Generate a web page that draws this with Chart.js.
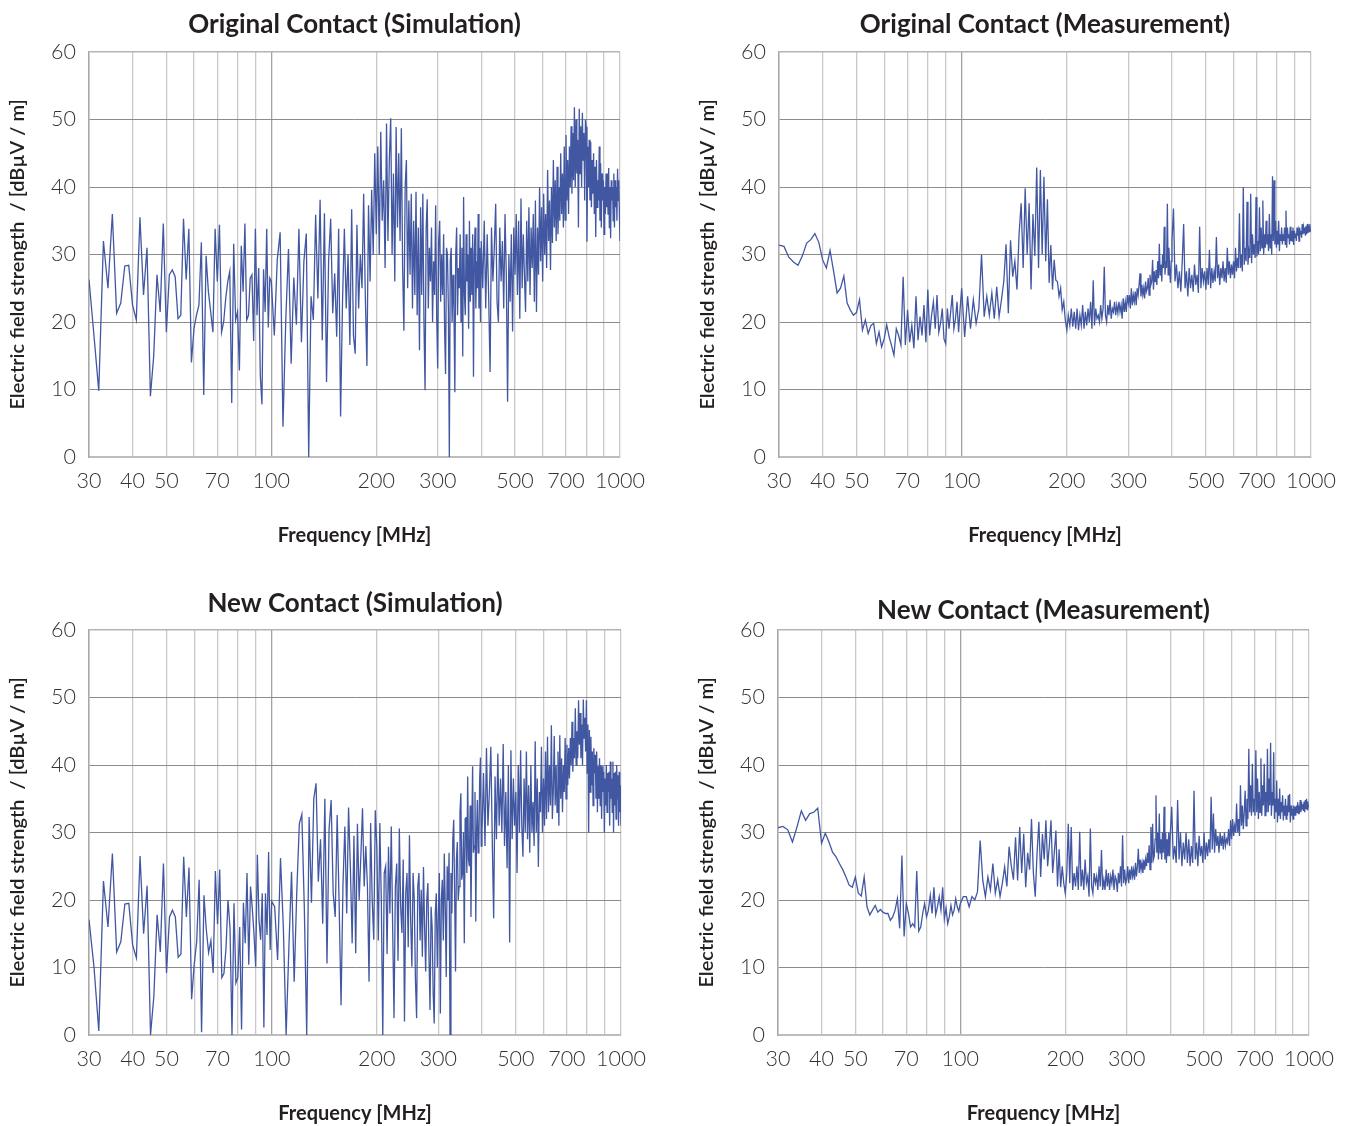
<!DOCTYPE html>
<html>
<head>
<meta charset="utf-8">
<script src="https://cdn.jsdelivr.net/npm/chart.js@4.4.0/dist/chart.umd.min.js"></script>
<style>
html, body { margin: 0; padding: 0; background: #fff; overflow: hidden; width: 1354px; height: 1126px; }
canvas { position: absolute; }
</style>
</head>
<body>
<canvas id="c1"></canvas>
<canvas id="c2"></canvas>
<canvas id="c3"></canvas>
<canvas id="c4"></canvas>
<script>
// frequency points in MHz, same for the four panels (10 per row)
var freq = [
    30, 31, 32, 33, 34, 35, 36, 37, 38, 39,
    40, 41, 42, 43, 44, 45, 46, 47, 48, 49,
    50, 51, 52, 53, 54, 55, 56, 57, 58, 59,
    60, 61, 62, 63, 64, 65, 66, 67, 68, 69,
    70, 71, 72, 73, 74, 75, 76, 77, 78, 79,
    80, 81, 82, 83, 84, 85, 86, 87, 88, 89,
    90, 91, 92, 93, 94, 95, 96, 97, 98, 99,
    100, 102, 104, 106, 108, 110, 112, 114, 116, 118,
    120, 122, 124, 126, 128, 130, 132, 134, 136, 138,
    140, 142, 144, 146, 148, 150, 152, 154, 156, 158,
    160, 162, 164, 166, 168, 170, 172, 174, 176, 178,
    180, 182, 184, 186, 188, 190, 192, 194, 196, 198,
    200, 202, 204, 206, 208, 210, 212, 214, 216, 218,
    220, 222, 224, 226, 228, 230, 232, 234, 236, 238,
    240, 242, 244, 246, 248, 250, 252, 254, 256, 258,
    260, 262, 264, 266, 268, 270, 272, 274, 276, 278,
    280, 282, 284, 286, 288, 290, 292, 294, 296, 298,
    300, 302, 304, 306, 308, 310, 312, 314, 316, 318,
    320, 322, 324, 326, 328, 330, 332, 334, 336, 338,
    340, 342, 344, 346, 348, 350, 352, 354, 356, 358,
    360, 362, 364, 366, 368, 370, 372, 374, 376, 378,
    380, 382, 384, 386, 388, 390, 392, 394, 396, 398,
    400, 404, 408, 412, 416, 420, 424, 428, 432, 436,
    440, 444, 448, 452, 456, 460, 464, 468, 472, 476,
    480, 484, 488, 492, 496, 500, 504, 508, 512, 516,
    520, 524, 528, 532, 536, 540, 544, 548, 552, 556,
    560, 564, 568, 572, 576, 580, 584, 588, 592, 596,
    600, 604, 608, 612, 616, 620, 624, 628, 632, 636,
    640, 644, 648, 652, 656, 660, 664, 668, 672, 676,
    680, 684, 688, 692, 696, 700, 704, 708, 712, 716,
    720, 724, 728, 732, 736, 740, 744, 748, 752, 756,
    760, 764, 768, 772, 776, 780, 784, 788, 792, 796,
    800, 804, 808, 812, 816, 820, 824, 828, 832, 836,
    840, 844, 848, 852, 856, 860, 864, 868, 872, 876,
    880, 884, 888, 892, 896, 900, 904, 908, 912, 916,
    920, 924, 928, 932, 936, 940, 944, 948, 952, 956,
    960, 964, 968, 972, 976, 980, 984, 988, 992, 996,
    1000
];

// Original Contact (Simulation), dBuV/m
var origSim = [
    26.3, 18, 9.8, 32, 25, 36, 21.3, 22.8, 28.3, 28.4,
    22.5, 20.3, 35.5, 24, 31, 9, 15, 27, 21.5, 34.6,
    18.5, 27, 27.7, 26.7, 20.5, 21, 35.3, 26.3, 33.8, 14,
    19, 21, 22.5, 31.8, 9.2, 29.8, 24.5, 21.5, 18.5, 33.8,
    26, 34.4, 18.5, 20, 23.5, 26, 27.5, 8, 31.6, 20.3,
    21.5, 12.8, 31.3, 24.5, 34.6, 20.3, 21, 26.5, 27, 17.2,
    33.8, 21, 28, 12, 7.8, 27.8, 21.5, 33.8, 19.2, 26.5,
    26, 18, 29.2, 33.3, 4.5, 20.2, 30.8, 13.8, 26.6, 19.6,
    33.8, 17, 29, 33.1, 0, 23.8, 20.3, 35.9, 23.5, 38.1,
    17.3, 36.1, 11.1, 29.2, 35.3, 21.3, 27.2, 17.8, 33.8, 6,
    22.8, 33.8, 22, 30, 16.6, 36.7, 18, 15.3, 34.4, 22,
    30, 25, 39, 24, 13.5, 37.3, 26, 39.6, 30, 45,
    33, 46, 30, 48.2, 35, 41, 28, 49.4, 32, 44,
    50.2, 30, 42, 26, 48.9, 34, 45, 32, 48.7, 28,
    18.7, 40, 44, 25, 38, 27, 39, 22, 35, 24,
    39.3, 21, 34, 15.8, 37, 24, 39, 20, 9.9, 33.8,
    38.2, 22, 31, 26, 34, 20, 29, 24, 37.3, 21,
    13.1, 32, 35, 23, 30, 24, 33, 19, 12.3, 31,
    30, 22, 0, 29, 31, 20, 27, 22, 9.6, 30,
    34, 21, 28, 25, 33, 20, 31, 14.9, 38.5, 24,
    21, 33, 26, 30, 19, 35, 23, 31, 24, 33,
    11.9, 30, 34, 22, 29, 25, 36, 22, 31, 20,
    32, 25, 35, 22, 33, 24, 12.6, 34, 26, 31,
    37.5, 23, 20, 34, 26, 32, 22, 36, 27, 8.2,
    30, 23, 33, 18.6, 34, 27, 36, 24, 35, 20.5,
    38.3, 25, 33, 27, 21.5, 35, 26, 37, 24, 34,
    28, 36, 23, 38, 21.5, 34, 27, 40, 29, 37,
    26, 39, 30, 36, 28, 42.5, 32, 38, 27.7, 40,
    31.7, 44, 34, 41, 32, 43, 33, 40, 35, 45,
    36, 42, 34, 46, 35.1, 47.7, 38, 44, 36, 46,
    40, 49, 39, 48, 41, 51.8, 40, 50, 42, 47,
    34, 51.6, 42, 49, 40, 51, 44, 48, 38, 50,
    48.9, 31.9, 46, 40, 47, 38, 46.7, 37, 44, 39,
    45, 36, 43, 32.6, 44, 37, 41, 38, 46, 35,
    43.5, 34, 42, 38, 41, 33, 40, 36, 42, 37,
    42, 36, 42.8, 34, 40, 32.4, 41, 38, 40, 35,
    42, 34, 41, 37, 40, 35, 42.7, 38, 41, 36,
    32
];

// Original Contact (Measurement)
var origMeas = [
    31.4, 31.2, 29.6, 28.9, 28.4, 29.8, 31.7, 32.2, 33.1, 31.8,
    29.2, 28, 30.6, 27.5, 24.3, 25, 26.8, 22.8, 21.8, 21,
    21.4, 23.3, 18.8, 20.3, 18.3, 19.5, 19.8, 16.8, 18.5, 16.3,
    17.5, 19.6, 17.8, 16.5, 15.1, 19, 18, 16.6, 26.7, 16.6,
    21.8, 17, 19.5, 16.1, 23.8, 17.3, 20.8, 18, 22.5, 17,
    24.8, 18, 21, 23, 19, 24, 18.5, 19.8, 22, 17.5,
    16.8, 22, 19, 21.5, 24, 19, 20.5, 23, 18.5, 22,
    25, 17.8, 23.8, 19, 23.3, 19.8, 22, 30, 20.8, 23.8,
    21, 24.3, 20.5, 25.2, 20.8, 23.3, 26, 31.5, 21.3, 32.1,
    26.7, 29, 24.8, 33, 37.6, 28, 39.8, 30, 37.6, 24.8,
    36, 29.8, 42.9, 28, 42.5, 30, 41.5, 29, 38.2, 25.8,
    31.4, 24.8, 29.2, 26.2, 26, 23.8, 25, 21.8, 23, 20.3,
    18.8, 21, 19.5, 22, 19.3, 21.5, 19, 22, 18.8, 21,
    19.5, 22.5, 19, 21.5, 19.5, 22, 20, 23, 19, 26.2,
    19.5, 22, 20.5, 21, 20, 22.5, 20.5, 22, 28.2, 21,
    20, 22.5, 21, 23.3, 20.5, 22, 21.5, 23, 21, 22.5,
    21.3, 23, 21.5, 22.5, 20.5, 23.5, 21.5, 23, 21.5, 24,
    22.8, 24, 22, 25, 22.5, 24, 23, 24.5, 22.5, 25,
    24, 25.5, 27.2, 23.8, 25.5, 24, 25, 23.5, 26, 24.5,
    25, 26.5, 24, 27, 25.5, 26, 29.2, 24.8, 27.5, 26,
    27.7, 25.5, 29, 26.5, 31.6, 27, 28.5, 26, 30, 28,
    34.1, 27, 29, 28, 37.5, 27, 31, 27.5, 25.8, 29,
    32, 36.8, 26, 28.5, 25, 27.5, 24.5, 29, 34.5, 25,
    27.5, 23.8, 28, 25, 27, 24.5, 28.5, 25.5, 27, 24.3,
    34.1, 25, 28, 26, 27.5, 24.8, 28, 25.5, 30.7, 25,
    28, 25.8, 27.5, 26, 32.6, 26.5, 28.5, 25.5, 28, 26.5,
    29, 26, 28, 25.8, 31, 27, 29, 26.5, 28.5, 27,
    29, 26.5, 31, 27.5, 29.5, 28, 36.1, 28, 30, 27.5,
    40, 28.5, 31, 29, 37.8, 28.5, 30.5, 29.5, 39, 28.7,
    33, 30, 31.5, 29.5, 38.5, 29.7, 32, 30, 37, 30.5,
    34, 31, 38, 30, 33, 31, 35, 31.5, 33, 30.5,
    36, 31, 33, 30, 41.6, 32, 41, 31.5, 35, 31,
    33.5, 31.5, 35, 30.5, 33, 32, 34, 31.5, 33, 32,
    34, 31.5, 36.5, 31, 34, 32.5, 33, 31.5, 34.1, 32,
    33.5, 32, 34, 31.4, 33.5, 32.5, 33.1, 32, 34, 32.8,
    33.5, 32, 34, 33, 33.5, 32.5, 34.5, 33, 34, 33.2,
    34, 32.8, 34.2, 33, 34.5, 33.2, 34, 33.4, 34.5, 33.5,
    33.6
];

// New Contact (Simulation)
var newSim = [
    17.1, 10.1, 0.6, 22.8, 16, 26.9, 12.3, 13.8, 19.4, 19.5,
    13.3, 11.4, 26.5, 15, 22.1, 0, 5.7, 17.8, 12.3, 25.4,
    9.2, 17.5, 18.5, 17.5, 11.5, 12, 26.4, 17.5, 24.8, 5.3,
    10.4, 13.8, 23, 0.4, 20.7, 15.6, 12.2, 14, 9.2, 24.3,
    16.4, 24.5, 8.5, 9.1, 12.8, 20, 15.8, 0, 19.5, 7.7,
    8.5, 16, 0.8, 19.6, 13.6, 24, 10.4, 22, 18.8, 15,
    10.1, 26.7, 17, 14.1, 21, 1.1, 21, 14.8, 27.1, 12.6,
    19.8, 19, 11.1, 26.2, 16, 0, 12.8, 24.2, 7.9, 21.2,
    31.3, 32.7, 19, 0, 32.3, 19.6, 35, 37.3, 22.7, 29,
    16.5, 35, 10.6, 30.5, 34.8, 21, 17.5, 32.6, 19.5, 4.4,
    22.2, 30.9, 18, 33.7, 24.8, 13.6, 29.5, 12.1, 31.3, 20,
    26.4, 33.6, 22, 28, 22, 7.9, 31.4, 20, 14.1, 33.3,
    27.9, 14, 31.4, 20, 0, 24, 25, 12, 27.9, 18,
    30.9, 16, 2.5, 22, 25.4, 11, 30.6, 19, 15.1, 26,
    2, 21, 24, 13, 29.6, 17, 10.1, 24, 20, 8,
    2.5, 22, 24, 14, 21.5, 11.6, 24.9, 16, 9.4, 20,
    22.5, 12, 3.7, 19, 16, 6, 1.7, 18, 21, 10,
    17.8, 24, 3.2, 20, 23, 14, 26.9, 19, 8.6, 25,
    20, 27, 0, 24, 18, 29, 31.9, 21, 9.4, 26,
    28.6, 20, 22, 33, 35.8, 23, 24, 30, 13.6, 32,
    32.3, 24, 38.3, 26, 25, 34, 17.5, 30, 39.8, 27,
    28, 36, 16.8, 30, 34.8, 27, 29, 38, 41.1, 28,
    30, 38.8, 28, 42.5, 31, 36, 42.7, 29, 17.3, 38.3,
    29, 41.7, 31, 38, 30, 43.1, 28, 36, 24.7, 40,
    13.7, 42.2, 29, 38, 31, 36, 24, 40, 30, 42.2,
    31, 26.4, 38, 30, 42, 29, 37, 27, 40, 30,
    34.5, 28, 43.5, 30, 38, 24.9, 36, 33, 42.7, 30,
    38, 31, 42, 32, 44.2, 33, 40, 34, 45.9, 32,
    36, 44.3, 34, 40, 33, 42, 31, 44.4, 35, 41,
    33, 40, 36, 44, 35, 43, 37, 42.5, 38, 44,
    40, 46.4, 39, 44, 41, 48.4, 40, 45, 41, 49.6,
    43, 47.7, 41, 46, 40, 49.7, 44, 47, 42, 49.6,
    38.8, 46, 30, 45.2, 36, 44.2, 37, 42, 34, 42.5,
    38.8, 41.5, 35, 42, 33, 39.8, 35, 41, 34, 40,
    32, 39.8, 36, 39, 30, 38, 34, 40, 33, 38.8,
    36, 39, 31, 40.5, 35, 38, 33, 40.5, 30, 38.8,
    34, 39, 32, 40, 35, 38.5, 31, 39, 33, 37,
    31
];

// New Contact (Measurement)
var newMeas = [
    30.7, 30.9, 30.4, 28.6, 30.8, 33.2, 31.8, 32.8, 33, 33.6,
    28.4, 29.9, 28.6, 27.1, 26.4, 25.4, 24.5, 23.4, 22.2, 21.9,
    23.4, 21, 20.6, 23.4, 19, 17.8, 18.5, 19.2, 18.2, 18.6,
    18.2, 18, 18, 17, 17.5, 18.5, 20.2, 15.8, 26.6, 14.6,
    19.5, 18, 16, 16.5, 16, 24.3, 15.4, 16, 18, 19.5,
    17.5, 18.5, 20.7, 18, 21.9, 17.8, 19, 20.5, 18.5, 21.9,
    17.2, 18.8, 16.5, 17.5, 19.2, 17.8, 18.5, 20.2, 19, 18.3,
    19.5, 20.5, 20.5, 19, 20.5, 20, 21.2, 28.8, 22.9, 20.5,
    23.4, 21.5, 25.4, 21, 23, 20.5, 22.5, 24.9, 22, 27.9,
    25.1, 23, 29.3, 22.9, 30.8, 24, 29.8, 21.9, 27, 24.5,
    32, 24, 20.5, 27, 31.6, 23.4, 29.8, 26, 31.8, 25,
    28, 31.8, 24, 27, 30.3, 22, 27.5, 21.9, 25, 22.5,
    21, 24, 31.3, 22.5, 30.8, 21.5, 24, 22, 25, 21.5,
    30.1, 22, 24.5, 21.5, 26, 22.5, 23.5, 20.5, 30.6, 22,
    21, 24, 22.5, 23.5, 21.5, 25, 22, 27.4, 21.5, 23,
    21.5, 24.5, 22, 24, 21.5, 23.5, 22.5, 24.5, 21.5, 23.5,
    23, 21.2, 24, 22.5, 25, 22, 29.6, 22.5, 24.5, 22.5,
    23, 25, 22.5, 24.5, 23, 25, 23.5, 24.5, 23, 25.5,
    23.5, 25, 27.6, 24, 26, 24.5, 25.5, 24, 26, 24.5,
    26, 25, 27, 25.5, 28.1, 24.5, 30.8, 25.5, 31.3, 26,
    26.5, 29, 35.5, 27, 30, 26, 32.8, 27, 29, 26,
    30, 27, 33.8, 26, 30, 25.5, 29, 26.5, 30, 26.5,
    29.5, 33.8, 26, 28, 25.5, 34.8, 26, 30, 25, 28.5,
    26, 30, 25.5, 29, 25, 28, 25.5, 36.2, 26, 28.5,
    25, 29.5, 26.5, 28, 25.5, 30, 26, 28.5, 26.5, 29,
    27, 35.3, 27.5, 32.8, 27, 30.5, 28, 29.5, 27, 30,
    28, 29.5, 27.5, 30, 28, 29, 28.5, 30.5, 28, 31.8,
    29, 32, 29.5, 31, 30, 34.3, 30, 32, 29.5, 37,
    31, 34, 30.5, 33, 36.2, 31, 35, 32, 42.4, 33,
    37, 32.5, 40.2, 33, 35, 32.5, 42.2, 33, 38, 32,
    36, 33, 41, 32.5, 37, 34, 40.2, 32.5, 36, 33,
    42.4, 33, 38, 34, 43.3, 32.5, 36, 34, 41.9, 32,
    35, 33, 37.7, 31.5, 35, 32.5, 36.5, 32, 34.5, 33,
    35.5, 31.8, 34, 32.5, 35, 32, 34, 32.5, 35.5, 33,
    35.7, 31.5, 34, 32.5, 33.5, 32, 34, 32.5, 33.8, 32.5,
    34, 33, 34.5, 32.8, 34, 33.5, 34.8, 33, 34.5, 33.5,
    34.2, 33.2, 34.6, 33, 34.8, 33.5, 35, 33.4, 34.6, 33.8,
    33.8
];

// grid lines of the log axis and the ones that get a label
var xGrid = [30, 40, 50, 60, 70, 80, 90, 100, 200, 300, 400, 500, 600, 700, 800, 900, 1000];
var xLabels = [30, 40, 50, 70, 100, 200, 300, 500, 700, 1000];

function pontos(valores) {
    var p = [];
    for (var i = 0; i < freq.length; i++) {
        p.push({ x: freq[i], y: valores[i] });
    }
    return p;
}

// l, r, t, b = plot area on the page, ty = centre of the title
function grafico(id, titulo, valores, l, r, t, b, ty) {
    var cv = document.getElementById(id);
    var x0 = l - 89, y0 = t - 52;
    cv.width = (r - l) + 178;
    cv.height = (b - t) + 152;
    cv.style.left = x0 + 'px';
    cv.style.top = y0 + 'px';
    var padTop = ty - y0 - 15.6;

    new Chart(cv.getContext('2d'), {
        type: 'line',
        data: {
            datasets: [{
                data: pontos(valores),
                borderColor: '#4257a2',
                borderWidth: 1.3,
                pointRadius: 0,
                tension: 0,
                fill: false
            }]
        },
        options: {
            responsive: false,
            animation: false,
            layout: { padding: 0 },
            plugins: {
                legend: { display: false },
                tooltip: { enabled: false },
                title: {
                    display: true,
                    text: titulo,
                    color: '#231f20',
                    font: { family: 'Lato', size: 26, weight: 'bold', lineHeight: 1.2 },
                    padding: { top: padTop, bottom: 52 - 31.2 - padTop }
                }
            },
            scales: {
                x: {
                    type: 'logarithmic',
                    min: 30,
                    max: 1000,
                    afterBuildTicks: function (s) {
                        s.ticks = xGrid.map(function (v) { return { value: v }; });
                    },
                    afterFit: function (s) { s.height = 100; },
                    ticks: {
                        autoSkip: false,
                        maxRotation: 0,
                        minRotation: 0,
                        padding: 11,
                        color: '#333',
                        font: { family: 'Lato', size: 21.5, weight: '300' },
                        callback: function (v) {
                            return xLabels.indexOf(v) >= 0 ? String(v) : '';
                        }
                    },
                    grid: {
                        drawTicks: false,
                        color: function (c) {
                            return c.tick && c.tick.value === 100 ? '#a2a2a2' : '#c8c8c8';
                        },
                        lineWidth: 1.3
                    },
                    border: { color: '#bdbdbd', width: 2 },
                    title: {
                        display: true,
                        text: 'Frequency [MHz]',
                        color: '#231f20',
                        font: { family: 'Lato', size: 20, weight: 'bold', lineHeight: 1.2 },
                        padding: { top: 0, bottom: 9 }
                    }
                },
                y: {
                    min: 0,
                    max: 60,
                    afterFit: function (s) { s.width = 89; },
                    ticks: {
                        stepSize: 10,
                        padding: 13,
                        color: '#333',
                        font: { family: 'Lato', size: 21.5, weight: '300' }
                    },
                    grid: {
                        drawTicks: false,
                        color: function (c) {
                            return c.tick && c.tick.value === 60 ? '#b4b4b4' : '#8c8c8c';
                        },
                        lineWidth: function (c) {
                            return c.tick && c.tick.value === 60 ? 1.6 : 1;
                        }
                    },
                    border: { color: '#a8a8a8', width: 1.5 },
                    title: {
                        display: true,
                        text: 'Electric field strength  / [dBµV / m]',
                        color: '#231f20',
                        font: { family: 'Lato', size: 20, weight: '600', lineHeight: 1.2 },
                        padding: { top: 6, bottom: 0 }
                    }
                },
                // empty axis on the right so the title centres over the plot
                yd: {
                    position: 'right',
                    min: 0,
                    max: 60,
                    afterFit: function (s) { s.width = 89; },
                    ticks: { display: false },
                    grid: { display: false },
                    border: { display: false }
                }
            }
        }
    });
}

grafico('c1', 'Original Contact (Simulation)', origSim, 89, 620, 52, 457, 25);
grafico('c2', 'Original Contact (Measurement)', origMeas, 779, 1311, 52, 457, 25);
grafico('c3', 'New Contact (Simulation)', newSim, 89, 621, 630, 1035, 604);
grafico('c4', 'New Contact (Measurement)', newMeas, 778, 1309, 630, 1035, 611);
</script>
</body>
</html>
